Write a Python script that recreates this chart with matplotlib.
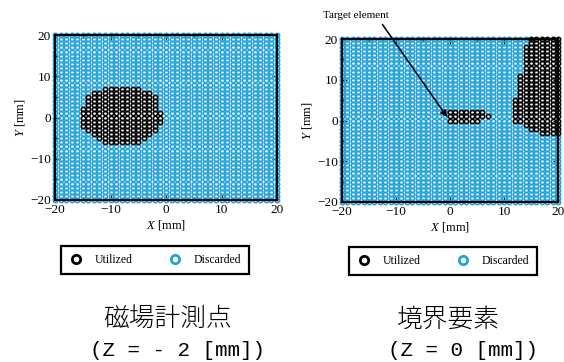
import numpy as np
import matplotlib
matplotlib.use("Agg")
import matplotlib.pyplot as plt
from matplotlib.lines import Line2D

plt.rcParams['mathtext.fontset'] = 'custom'
plt.rcParams['mathtext.it'] = 'Liberation Serif:italic'
plt.rcParams['mathtext.rm'] = 'Liberation Serif'

# ---------------- data ----------------
grid_x = list(range(-20, 21))   # mm, measurement/element grid
grid_y = list(range(-20, 21))

# left panel: utilized magnetic-field points, rows (y, x_min, x_max)
left_rows = [
    (7, -11, -5), (6, -13, -3), (5, -14, -2), (4, -14, -2), (3, -14, -2),
    (2, -15, -2), (1, -15, -1), (0, -15, -1), (-1, -15, -1), (-2, -15, -2),
    (-3, -14, -2), (-4, -13, -3), (-5, -12, -4), (-6, -11, -5),
]
# right panel: target element block, rows (y, x_min, x_max)
right_rows = [(2, 0, 6), (1, 0, 7), (0, 0, 5)]
# right panel: utilized boundary region, columns (x, y_min, y_max)
right_cols = [
    (12, 0, 5), (13, 0, 11), (14, -1, 18), (15, -2, 20), (16, -2, 20),
    (17, -3, 20), (18, -3, 20), (19, -3, 20), (20, -3, 20),
]
ticks = [-20, -10, 0, 10, 20]
legend_labels = ["Utilized", "Discarded"]
captions = [("磁場計測点", "(Z = - 2 [mm])"), ("境界要素", "(Z = 0 [mm])")]

BLUE = "#1fa3da"

def build_mask(rows=(), cols=()):
    X, Y = np.meshgrid(grid_x, grid_y)
    m = np.zeros(X.shape, bool)
    for y, x0, x1 in rows:
        m |= (Y == y) & (X >= x0) & (X <= x1)
    for x, y0, y1 in cols:
        m |= (X == x) & (Y >= y0) & (Y <= y1)
    return X, Y, m

fig = plt.figure(figsize=(5.64, 3.62), dpi=100)
W, H = 564, 362
def ax_rect(l, t, r, b):
    return [l / W, 1 - b / H, (r - l) / W, (b - t) / H]

axL = fig.add_axes(ax_rect(55, 35, 277, 200))
axR = fig.add_axes(ax_rect(342, 39, 558, 202))

serif = "Liberation Serif"
ms, mew = 3.1, 1.15

for ax, (X, Y, m) in [(axL, build_mask(rows=left_rows)),
                      (axR, build_mask(rows=right_rows, cols=right_cols))]:
    ax.plot(X[~m], Y[~m], 'o', ms=ms, mfc='none', mec=BLUE, mew=mew,
            clip_on=False, zorder=2)
    ax.plot(X[m], Y[m], 'o', ms=ms, mfc='none', mec='black', mew=mew,
            clip_on=False, zorder=3)
    ax.set_xlim(-20, 20)
    ax.set_ylim(-20, 20)
    ax.set_xticks(ticks)
    ax.set_yticks(ticks)
    ax.set_xticks([-15, -5, 5, 15], minor=True)
    ax.set_yticks([-15, -5, 5, 15], minor=True)
    ax.tick_params(which='both', direction='in', top=True, right=True,
                   labelsize=9.5, width=1.0, pad=3)
    ax.tick_params(which='major', length=3.5)
    ax.tick_params(which='minor', length=2)
    for lab in ax.get_xticklabels() + ax.get_yticklabels():
        lab.set_family(serif)
    for s in ax.spines.values():
        s.set_linewidth(1.6)
        s.set_zorder(4)
    ax.set_xlabel(r"$X$ [mm]", fontsize=9, family=serif, labelpad=1)
    ax.set_ylabel(r"$Y$ [mm]", fontsize=9, family=serif, labelpad=2)

# annotation
axR.annotate("Target element", xy=(-0.5, 0.8), xycoords='data',
             xytext=(356, H - 16), textcoords='figure pixels',
             ha='center', va='center', fontsize=8, family=serif,
             arrowprops=dict(arrowstyle='-|>', color='black', lw=1.1,
                             mutation_scale=10, relpos=(0.86, 0.0),
                             shrinkA=1, shrinkB=0))

# legends
handles = [Line2D([], [], ls='none', marker='o', ms=6, mfc='none', mew=2,
                  mec='black'),
           Line2D([], [], ls='none', marker='o', ms=6, mfc='none', mew=2,
                  mec=BLUE)]
for cx, cy in [(155, 260), (443, 261)]:
    leg = fig.legend(handles, legend_labels, loc='center',
                     bbox_to_anchor=(cx / W, 1 - cy / H), ncol=2,
                     frameon=True, fancybox=False, framealpha=1,
                     edgecolor='black', prop={'family': serif, 'size': 8.5},
                     columnspacing=3.0, handletextpad=1.0, borderpad=0.65,
                     borderaxespad=0, handlelength=1.2)
    leg.get_frame().set_linewidth(1.6)

# captions
jp = ['Noto Sans CJK JP', 'DejaVu Sans']
for (l1, l2), x1, x2 in zip(captions, (103, 397), (90, 388)):
    fig.text(x1 / W, 1 - 319 / H, l1, ha='left', va='center',
             fontsize=18.5, family=jp, fontweight='light')
    fig.text(x2 / W, 1 - 351 / H, l2, ha='left', va='center',
             fontsize=15, family='Liberation Mono')

fig.savefig("out.png", dpi=100)
